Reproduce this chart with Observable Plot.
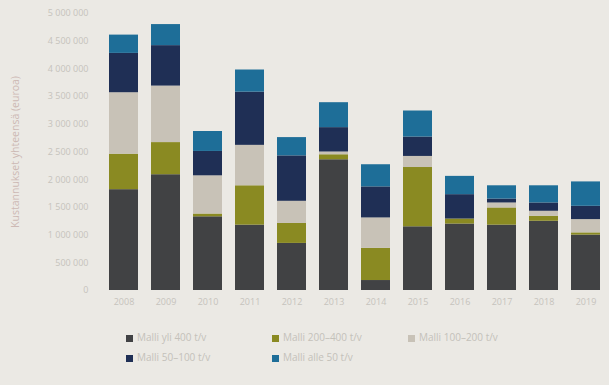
<!DOCTYPE html>
<html>
<head>
<meta charset="utf-8">
<script src="https://cdn.jsdelivr.net/npm/d3@7"></script>
<script src="https://cdn.jsdelivr.net/npm/@observablehq/plot@0.6"></script>
<style>
  html, body { margin: 0; padding: 0; background: #ebe9e4; }
  body { width: 609px; height: 385px; overflow: hidden; font-family: "Open Sans", sans-serif; }
  #legend { display: grid; grid-template-columns: 146px 136px 160px; row-gap: 6px;
    margin-left: 126px; margin-top: 8px; font-size: 10px; color: #c4c1ba; }
  #legend span.sw { display: inline-block; width: 7px; height: 7px; margin-right: 4px; vertical-align: middle; }
</style>
</head>
<body>
<div id="chart"></div>
<div id="legend"></div>
<script>
const years = ["2008","2009","2010","2011","2012","2013","2014","2015","2016","2017","2018","2019"];
const series = ["Malli yli 400 t/v", "Malli 200–400 t/v", "Malli 100–200 t/v", "Malli 50–100 t/v", "Malli alle 50 t/v"];
const colors = ["#414244", "#8a8a22", "#c8c2b7", "#1f2f55", "#1e6e98"];
const over400   = [1820000, 2090000, 1330000, 1180000, 850000, 2360000, 180000, 1150000, 1200000, 1180000, 1250000, 1000000];
const s200_400  = [640000, 580000, 50000, 710000, 360000, 90000, 580000, 1070000, 90000, 310000, 90000, 40000];
const s100_200  = [1110000, 1020000, 690000, 730000, 400000, 50000, 550000, 200000, 0, 90000, 90000, 240000];
const s50_100   = [710000, 730000, 440000, 960000, 820000, 440000, 560000, 350000, 440000, 70000, 150000, 240000];
const under50   = [330000, 380000, 360000, 400000, 330000, 450000, 400000, 470000, 330000, 240000, 310000, 440000];
const yTicks = [0, 500000, 1000000, 1500000, 2000000, 2500000, 3000000, 3500000, 4000000, 4500000, 5000000];
const yTitle = "Kustannukset yhteensä (euroa)";

const valuesBySeries = [over400, s200_400, s100_200, s50_100, under50];
const data = [];
years.forEach((y, i) => series.forEach((s, j) => data.push({year: y, series: s, value: valuesBySeries[j][i]})));

const fmt = d => d3.format(",")(d).replace(/,/g, " ");

const chart = Plot.plot({
  width: 609,
  height: 322,
  marginLeft: 100,
  marginRight: 0,
  marginTop: 13,
  marginBottom: 32,
  style: {background: "transparent", fontFamily: "Open Sans, sans-serif", fontSize: "9px", color: "#c6c3bc"},
  x: {domain: years, paddingInner: 0.3, paddingOuter: 0.15, label: null, tickSize: 0, tickPadding: 8},
  y: {domain: [0, 5000000], ticks: yTicks, tickFormat: fmt, label: null, tickSize: 0, tickPadding: 12},
  color: {domain: series, range: colors},
  marks: [
    Plot.barY(data, Plot.stackY({x: "year", y: "value", fill: "series", order: series})),
    Plot.axisY({ticks: yTicks, tickFormat: fmt, tickSize: 0, tickPadding: 12, label: null, fill: "#c6c3bc"}),
    Plot.axisX({tickSize: 0, tickPadding: 8, label: null, fill: "#c6c3bc"}),
    Plot.text([yTitle], {frameAnchor: "left", dx: -85, rotate: -90, textAnchor: "middle", fill: "#cdb9b4", fontSize: 10.5})
  ]
});
document.getElementById("chart").appendChild(chart);

const legend = document.getElementById("legend");
[0, 1, 2, 3, 4].forEach(i => {
  const d = document.createElement("div");
  d.innerHTML = `<span class="sw" style="background:${colors[i]}"></span>${series[i]}`;
  legend.appendChild(d);
});
</script>
</body>
</html>
